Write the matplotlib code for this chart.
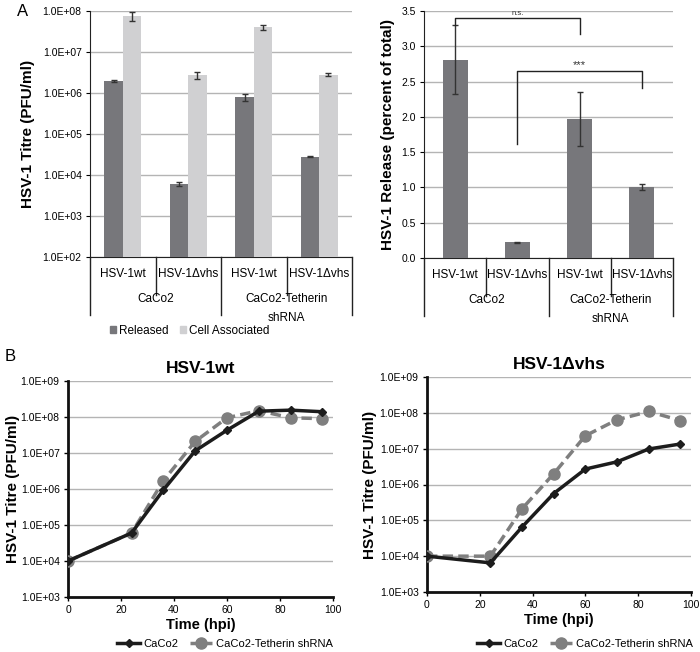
import numpy as np
import matplotlib
matplotlib.use("Agg")
import matplotlib.pyplot as plt
from matplotlib.patches import Patch

plt.rcParams['font.family'] = ['Liberation Sans', 'DejaVu Sans']

# ---------------- data ----------------
inner_labels = ["HSV-1wt", "HSV-1\u0394vhs", "HSV-1wt", "HSV-1\u0394vhs"]
outer_labels = ["CaCo2", "CaCo2-Tetherin\nshRNA"]

released = [2.0e6, 6.0e3, 8.0e5, 2.8e4]
released_err = [1.0e5, 6.0e2, 1.6e5, 1.0e3]
cell_assoc = [7.5e7, 2.7e6, 4.0e7, 2.8e6]
cell_assoc_err = [1.9e7, 5.0e5, 6.0e6, 2.0e5]

release_pct = [2.81, 0.22, 1.97, 1.01]
release_pct_err = [0.49, 0.01, 0.38, 0.04]

titre_ticks = [1e2, 1e3, 1e4, 1e5, 1e6, 1e7, 1e8]
titre_ticklabels = ["1.0E+02", "1.0E+03", "1.0E+04", "1.0E+05", "1.0E+06", "1.0E+07", "1.0E+08"]
pct_ticks = [0.0, 0.5, 1.0, 1.5, 2.0, 2.5, 3.0, 3.5]
pct_ticklabels = ["0.0", "0.5", "1.0", "1.5", "2.0", "2.5", "3.0", "3.5"]

hpi = [0, 24, 36, 48, 60, 72, 84, 96]
wt_caco2 = [1.0e4, 6.0e4, 9.4e5, 1.15e7, 4.3e7, 1.45e8, 1.55e8, 1.4e8]
wt_tetherin = [1.0e4, 6.0e4, 1.7e6, 2.1e7, 9.5e7, 1.5e8, 9.5e7, 9.0e7]
dvhs_caco2 = [1.0e4, 6.5e3, 6.5e4, 5.6e5, 2.7e6, 4.3e6, 9.8e6, 1.35e7]
dvhs_tetherin = [1.0e4, 1.0e4, 2.1e5, 2.0e6, 2.3e7, 6.4e7, 1.09e8, 6.1e7]
growth_ticks = [1e3, 1e4, 1e5, 1e6, 1e7, 1e8, 1e9]
growth_ticklabels = ["1.0E+03", "1.0E+04", "1.0E+05", "1.0E+06", "1.0E+07", "1.0E+08", "1.0E+09"]
time_ticks = [0, 20, 40, 60, 80, 100]

# ---------------- style ----------------
DARK = "#77777b"
LIGHT = "#d0d0d2"
GRID = "#b4b4b4"
TICK_FS = 7.5
CAT_FS = 8.5
YLAB_FS = 11

W, H = 700, 652
fig = plt.figure(figsize=(W / 100, H / 100), dpi=100)


def ax_rect(l, r, t, b):
    return [l / W, 1 - b / H, (r - l) / W, (b - t) / H]


def two_level_axis(ax, height_px):
    tr = ax.get_xaxis_transform()
    n = len(inner_labels)
    ax.set_xlim(-0.5, n - 0.5)
    ax.set_xticks([])
    short = -38 / height_px
    long_ = -58 / height_px
    for b in np.arange(-0.5, n, 1.0):
        idx = int(b + 0.5)
        y_end = long_ if idx % 2 == 0 else short
        ax.plot([b, b], [0, y_end], transform=tr, color="#222222", lw=1, clip_on=False)
    for i, lab in enumerate(inner_labels):
        ax.text(i, -17 / height_px, lab, transform=tr, ha="center", va="center", fontsize=CAT_FS)
    for g, lab in enumerate(outer_labels):
        ax.text(2 * g + 0.5, -36 / height_px, lab, transform=tr, ha="center", va="top",
                fontsize=CAT_FS, linespacing=1.75)


# ---------------- Panel A left ----------------
axA = fig.add_axes(ax_rect(90, 352, 11, 257))
x = np.arange(len(inner_labels))
bw = 0.28
err_kw = dict(ecolor="#333333", elinewidth=1, capsize=2, capthick=1)
axA.bar(x - bw / 2, released, bw, color=DARK, yerr=released_err, error_kw=err_kw, zorder=3)
axA.bar(x + bw / 2, cell_assoc, bw, color=LIGHT, yerr=cell_assoc_err, error_kw=err_kw, zorder=3)
axA.set_yscale("log")
axA.set_ylim(titre_ticks[0], titre_ticks[-1])
axA.set_yticks(titre_ticks)
axA.set_yticklabels(titre_ticklabels, fontsize=TICK_FS)
axA.yaxis.set_minor_locator(matplotlib.ticker.NullLocator())
axA.grid(axis="y", color=GRID, lw=1, zorder=0)
axA.set_axisbelow(True)
for s in ["top", "right"]:
    axA.spines[s].set_visible(False)
axA.spines["left"].set_color("#222222")
axA.spines["bottom"].set_color("#222222")
axA.tick_params(axis="y", length=3, pad=3)
axA.set_ylabel("HSV-1 Titre (PFU/ml)", fontsize=YLAB_FS, fontweight="bold")
axA.yaxis.set_label_coords(-0.21, 0.5)
two_level_axis(axA, 246)

fig.legend(handles=[Patch(color=DARK, label="Released"), Patch(color=LIGHT, label="Cell Associated")],
           loc="center", bbox_to_anchor=(190 / W, 1 - 331 / H), ncol=2, frameon=False,
           fontsize=CAT_FS, handlelength=0.5, handleheight=0.5, handletextpad=0.25,
           columnspacing=1.0, borderpad=0, borderaxespad=0)

fig.text(17 / W, 1 - 12 / H, "A", fontsize=12, ha="left", va="center")

# ---------------- Panel A right ----------------
axR = fig.add_axes(ax_rect(424, 673, 11, 258))
axR.bar(x, release_pct, 0.4, color=DARK, yerr=release_pct_err, error_kw=err_kw, zorder=3)
axR.set_ylim(pct_ticks[0], pct_ticks[-1])
axR.set_yticks(pct_ticks)
axR.set_yticklabels(pct_ticklabels, fontsize=TICK_FS)
axR.grid(axis="y", color=GRID, lw=1, zorder=0)
axR.set_axisbelow(True)
for s in ["top", "right"]:
    axR.spines[s].set_visible(False)
axR.spines["left"].set_color("#222222")
axR.spines["bottom"].set_color("#222222")
axR.tick_params(axis="y", length=3, pad=3)
axR.set_ylabel("HSV-1 Release (percent of total)", fontsize=YLAB_FS, fontweight="bold")
axR.yaxis.set_label_coords(-0.116, 0.5)
two_level_axis(axR, 247)


def bracket(ax, x1, x2, ytop, y1, y2, text, fs):
    ax.plot([x1, x1, x2, x2], [y1, ytop, ytop, y2], color="#222222", lw=1, zorder=4)
    ax.text((x1 + x2) / 2, ytop + 0.01, text, ha="center", va="bottom", fontsize=fs, color="#333333")


bracket(axR, 0, 2, 3.40, 3.30, 3.18, "n.s.", 5.5)
bracket(axR, 1, 3, 2.65, 1.62, 2.41, "***", 8)

# ---------------- Panel B ----------------
def growth(ax, caco, teth, title):
    ax.plot(hpi, teth, color="#7f7f7f", lw=2.5, ls=(0, (3.0, 1.5)), marker="o", ms=8,
            label="CaCo2-Tetherin shRNA", zorder=3)
    ax.plot(hpi, caco, color="#1c1c1c", lw=2.5, marker="D", ms=4, label="CaCo2", zorder=4)
    ax.set_yscale("log")
    ax.set_ylim(growth_ticks[0], growth_ticks[-1])
    ax.set_yticks(growth_ticks)
    ax.set_yticklabels(growth_ticklabels, fontsize=TICK_FS)
    ax.yaxis.set_minor_locator(matplotlib.ticker.NullLocator())
    ax.set_xlim(time_ticks[0], time_ticks[-1])
    ax.set_xticks(time_ticks)
    ax.set_xticklabels([str(t) for t in time_ticks], fontsize=TICK_FS)
    ax.grid(axis="y", color=GRID, lw=1, zorder=0)
    ax.set_axisbelow(True)
    for s in ["top", "right"]:
        ax.spines[s].set_visible(False)
    ax.spines["left"].set_linewidth(2)
    ax.spines["bottom"].set_linewidth(2)
    ax.spines["left"].set_color("#111111")
    ax.spines["bottom"].set_color("#111111")
    ax.tick_params(axis="both", length=3, width=1, pad=3)
    ax.set_ylabel("HSV-1 Titre (PFU/ml)", fontsize=YLAB_FS, fontweight="bold")
    ax.set_xlabel("Time (hpi)", fontsize=10.5, fontweight="bold", labelpad=2)
    ax.set_title(title, fontsize=12.5, fontweight="bold", pad=6)


axB1 = fig.add_axes(ax_rect(68, 333, 381, 597))
growth(axB1, wt_caco2, wt_tetherin, "HSV-1wt")
axB1.yaxis.set_label_coords(-0.181, 0.5)
axB2 = fig.add_axes(ax_rect(427, 691, 377, 592))
growth(axB2, dvhs_caco2, dvhs_tetherin, "HSV-1\u0394vhs")
axB2.yaxis.set_label_coords(-0.19, 0.5)

for ax, cx in [(axB1, 225), (axB2, 585)]:
    h, l = ax.get_legend_handles_labels()
    fig.legend(h[::-1], l[::-1], loc="center", bbox_to_anchor=(cx / W, 1 - 644 / H), ncol=2,
               frameon=False, fontsize=8, handlelength=2.0, handletextpad=0.35,
               columnspacing=1.0, borderaxespad=0, borderpad=0)

fig.text(5 / W, 1 - 357 / H, "B", fontsize=12, ha="left", va="center")

fig.savefig("out.png", dpi=100)
